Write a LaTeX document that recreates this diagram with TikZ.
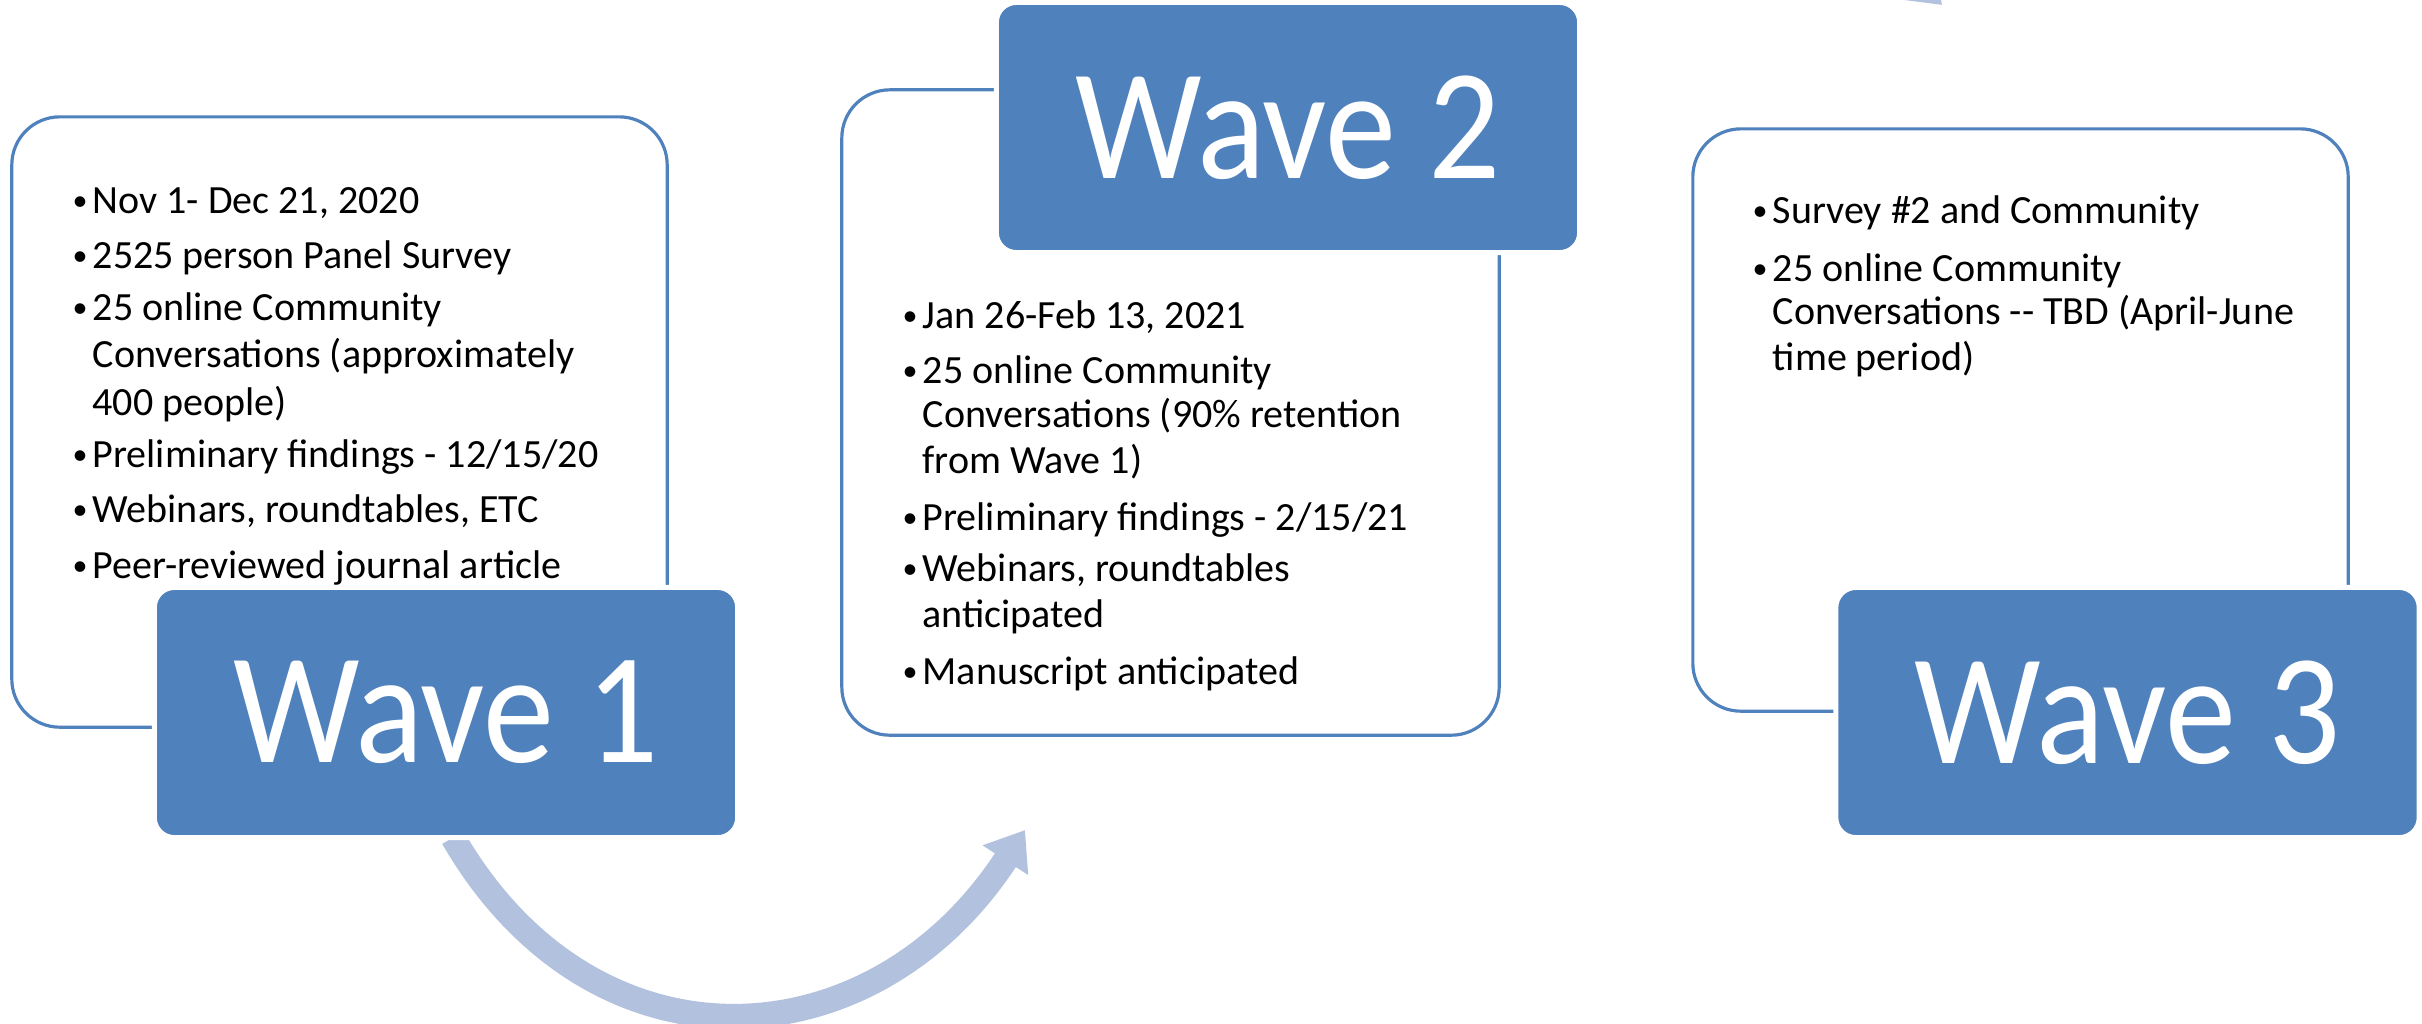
\documentclass[tikz,border=0pt]{standalone}
\usepackage{fontspec}
\setmainfont{Carlito}
\usepackage{graphicx}
\usetikzlibrary{arrows.meta}
\definecolor{wblue}{HTML}{4F81BD}
\definecolor{arrowblue}{HTML}{B2C1DE}
\pgfdeclarelayer{bg}
\pgfsetlayers{bg,main}
\newcommand\bul{\makebox[0.20cm][l]{\raisebox{0.03cm}{\scalebox{0.75}{\textbullet}}}}
\begin{document}
\begin{tikzpicture}[x=0.01cm,y=-0.01cm,
  textbox/.style={draw=wblue, line width=0.9pt, fill=white, rounded corners=0.48cm, inner sep=0, outer sep=0},
  wavebox/.style={fill=wblue, draw=white, line width=0.05cm, rounded corners=0.2cm, minimum width=5.83cm, minimum height=2.50cm, inner sep=0, outer sep=0, text=white, font=\fontsize{44.96}{50}\selectfont},
  txt/.style={anchor=base west, inner sep=0, font=\fontsize{11.38}{13}\selectfont},
  flow/.style={draw=arrowblue, line width=0.25cm, -{Triangle[length=0.36cm,width=0.52cm]}}
]
\useasboundingbox (0,0) rectangle (2422,1023);

% text boxes
\node[textbox, minimum width=6.55cm, minimum height=6.10cm] (b1) at (339.5,422) {};
\node[textbox, minimum width=6.57cm, minimum height=6.45cm] (b2) at (1170.5,412.5) {};
\node[textbox, minimum width=6.55cm, minimum height=5.82cm] (b3) at (2020.5,420) {};

% wave 1 text
\node[txt] (t11) at (72,213) {\bul Nov 1- Dec 21, 2020};
\node[txt] (t12) at (72,268) {\bul 2525 person Panel Survey};
\node[txt] (t13) at (72,320) {\bul 25 online Community};
\node[txt] (t14) at (92,367) {Conversations (approximately};
\node[txt] (t15) at (92,415) {400 people)};
\node[txt] (t16) at (72,467) {\bul Preliminary findings - 12/15/20};
\node[txt] (t17) at (72,522) {\bul Webinars, roundtables, ETC};
\node[txt] (t18) at (72,578) {\bul Peer-reviewed journal article};

% wave 2 text
\node[txt] (t21) at (902,328) {\bul Jan 26-Feb 13, 2021};
\node[txt] (t22) at (902,383) {\bul 25 online Community};
\node[txt] (t23) at (922,427) {Conversations (90\% retention};
\node[txt] (t24) at (922,473) {from Wave 1)};
\node[txt] (t25) at (902,530) {\bul Preliminary findings - 2/15/21};
\node[txt] (t26) at (902,581) {\bul Webinars, roundtables};
\node[txt] (t27) at (922,627) {anticipated};
\node[txt] (t28) at (902,684) {\bul Manuscript anticipated};

% wave 3 text
\node[txt] (t31) at (1752,223) {\bul Survey \#2 and Community};
\node[txt] (t32) at (1752,281) {\bul 25 online Community};
\node[txt] (t33) at (1772,324) {Conversations -{}- TBD (April-June};
\node[txt] (t34) at (1772,370) {time period)};

% wave boxes
\node[wavebox] (w1) at (446,712.5) {\scalebox{0.90}[1]{Wave 1}};
\node[wavebox] (w2) at (1288,127.5) {\scalebox{0.90}[1]{Wave 2}};
\node[wavebox] (w3) at (2127.5,712.5) {\scalebox{0.90}[1]{Wave 3}};

\coordinate (a1e) at (1025,830);
\coordinate (a2s) at (1290,40);
\coordinate (a2e) at (1942,5);

\begin{pgfonlayer}{bg}
\draw[flow] ([xshift=0.07cm]w1.south) .. controls (593,1080) and (872,1065) .. (a1e);
\begin{scope}
\clip (0,0) rectangle (2422,1023);
\draw[flow] (a2s) .. controls (1340,-220) and (1760,-175) .. (a2e);
\end{scope}
\end{pgfonlayer}
\end{tikzpicture}
\end{document}
